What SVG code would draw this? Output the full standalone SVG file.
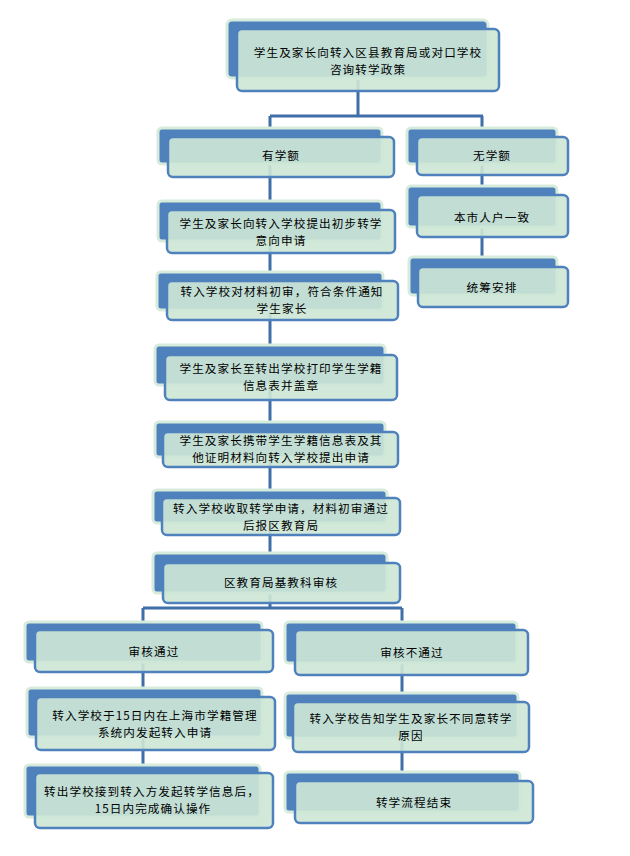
<svg xmlns="http://www.w3.org/2000/svg" width="630" height="856" viewBox="0 0 630 856">
<style>
.back{fill:#4f81bd;stroke:#d6ebdc;stroke-width:3}
.front{fill:#cde7d6;fill-opacity:0.9;stroke:#4f81bd;stroke-width:2.5}
.t{font-family:"Noto Sans CJK SC","Noto Sans",sans-serif;font-size:11.6px;fill:#000;text-anchor:middle;dominant-baseline:central;letter-spacing:1.1px}
.c{fill:none;stroke:#3f6fa8;stroke-width:3}
</style>
<rect width="630" height="856" fill="#fff"/>
<g id="connectors" class="c">
<path d="M358,80 V116 M270,116 H483 M270,116 V130 M482,116 V130"/>
<path d="M270,164 V203 M270,241 V274 M270,312 V347 M270,385 V424 M270,457 V492 M270,523 V555 M270,593 V608"/>
<path d="M143,608 H402 M143,608 V624 M402,608 V624"/>
<path d="M143,662 V690 M143,737 V767"/>
<path d="M402,663 V695 M402,738 V774"/>
<path d="M482,164 V188 M482,227 V259"/>
</g>
<g id="n-top">
<rect class="back" x="227" y="20" width="261" height="58" rx="5"/>
<rect class="front" x="237" y="29" width="262" height="62" rx="5"/>
<text class="t" x="368" y="52">学生及家长向转入区县教育局或对口学校</text>
<text class="t" x="368" y="69">咨询转学政策</text>
</g>
<g id="n-you">
<rect class="back" x="158" y="128" width="224" height="36" rx="4"/>
<rect class="front" x="168" y="137" width="226" height="40" rx="5"/>
<text class="t" x="281" y="155">有学额</text>
</g>
<g id="n-wu">
<rect class="back" x="407" y="128" width="150" height="36" rx="4"/>
<rect class="front" x="417" y="137" width="151" height="38" rx="5"/>
<text class="t" x="492" y="155">无学额</text>
</g>
<g id="n-huji">
<rect class="back" x="407" y="186" width="150" height="41" rx="4"/>
<rect class="front" x="417" y="195" width="151" height="42" rx="5"/>
<text class="t" x="492" y="217">本市人户一致</text>
</g>
<g id="n-tongchou">
<rect class="back" x="409" y="257" width="148" height="38" rx="4"/>
<rect class="front" x="418" y="267" width="150" height="40" rx="5"/>
<text class="t" x="492" y="287">统筹安排</text>
</g>
<g id="n-yixiang">
<rect class="back" x="158" y="201" width="224" height="40" rx="4"/>
<rect class="front" x="167" y="210" width="228" height="43" rx="5"/>
<text class="t" x="281" y="223">学生及家长向转入学校提出初步转学</text>
<text class="t" x="281" y="240">意向申请</text>
</g>
<g id="n-chushen">
<rect class="back" x="157" y="272" width="226" height="38" rx="4"/>
<rect class="front" x="167" y="281" width="231" height="39" rx="5"/>
<text class="t" x="282" y="291">转入学校对材料初审，符合条件通知</text>
<text class="t" x="282" y="308">学生家长</text>
</g>
<g id="n-dayin">
<rect class="back" x="155" y="345" width="230" height="40" rx="4"/>
<rect class="front" x="165" y="355" width="232" height="45" rx="5"/>
<text class="t" x="281" y="368">学生及家长至转出学校打印学生学籍</text>
<text class="t" x="281" y="385">信息表并盖章</text>
</g>
<g id="n-xiedai">
<rect class="back" x="155" y="422" width="230" height="35" rx="4"/>
<rect class="front" x="163" y="432" width="235" height="35" rx="5"/>
<text class="t" x="281" y="440">学生及家长携带学生学籍信息表及其</text>
<text class="t" x="281" y="457">他证明材料向转入学校提出申请</text>
</g>
<g id="n-shouqu">
<rect class="back" x="153" y="490" width="234" height="33" rx="4"/>
<rect class="front" x="162" y="498" width="238" height="37" rx="5"/>
<text class="t" x="281" y="508">转入学校收取转学申请，材料初审通过</text>
<text class="t" x="281" y="525">后报区教育局</text>
</g>
<g id="n-qujiaoyu">
<rect class="back" x="153" y="553" width="234" height="40" rx="4"/>
<rect class="front" x="163" y="563" width="237" height="40" rx="5"/>
<text class="t" x="281" y="582">区教育局基教科审核</text>
</g>
<g id="n-pass">
<rect class="back" x="25" y="622" width="237" height="40" rx="4"/>
<rect class="front" x="35" y="630" width="238" height="42" rx="5"/>
<text class="t" x="154" y="651">审核通过</text>
</g>
<g id="n-fail">
<rect class="back" x="285" y="622" width="232" height="41" rx="4"/>
<rect class="front" x="295" y="630" width="233" height="45" rx="5"/>
<text class="t" x="412" y="652">审核不通过</text>
</g>
<g id="n-faqi">
<rect class="back" x="27" y="688" width="235" height="49" rx="4"/>
<rect class="front" x="36" y="697" width="239" height="53" rx="5"/>
<text class="t" x="155" y="715">转入学校于15日内在上海市学籍管理</text>
<text class="t" x="155" y="732">系统内发起转入申请</text>
</g>
<g id="n-gaozhi">
<rect class="back" x="285" y="693" width="233" height="45" rx="4"/>
<rect class="front" x="293" y="702" width="236" height="50" rx="5"/>
<text class="t" x="411" y="718">转入学校告知学生及家长不同意转学</text>
<text class="t" x="411" y="735">原因</text>
</g>
<g id="n-queren">
<rect class="back" x="25" y="765" width="235" height="52" rx="4"/>
<rect class="front" x="35" y="773" width="238" height="55" rx="5"/>
<text class="t" x="152" y="791">转出学校接到转入方发起转学信息后，</text>
<text class="t" x="153" y="808">15日内完成确认操作</text>
</g>
<g id="n-end">
<rect class="back" x="285" y="772" width="235" height="40" rx="4"/>
<rect class="front" x="295" y="781" width="238" height="42" rx="5"/>
<text class="t" x="414" y="802">转学流程结束</text>
</g>
</svg>
